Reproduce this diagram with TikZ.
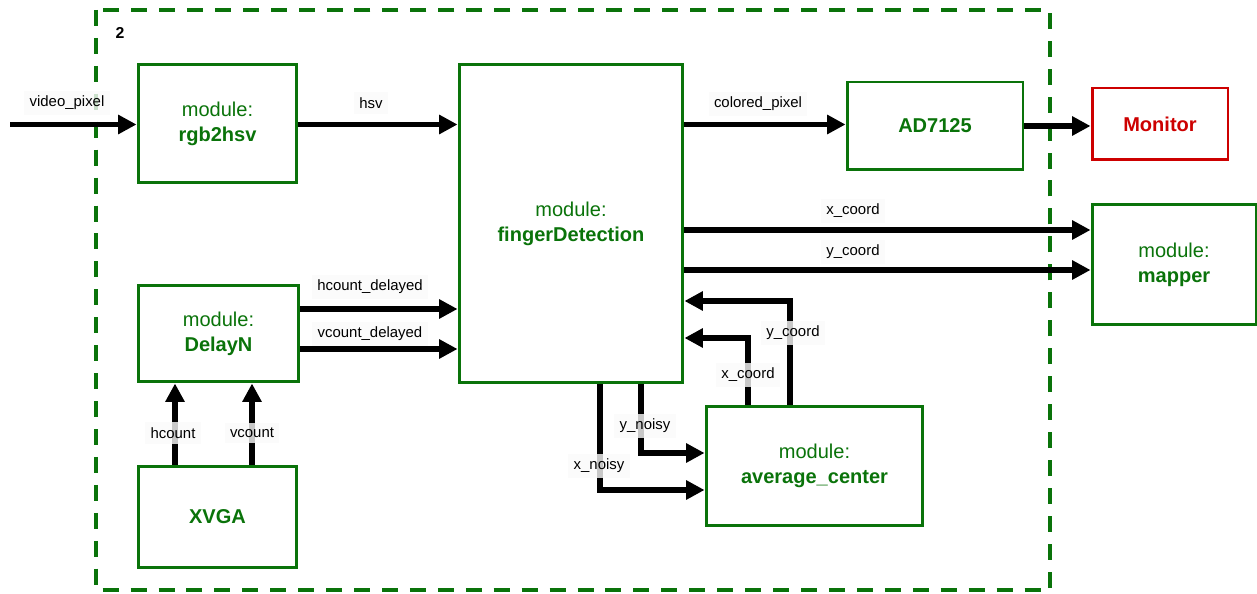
\documentclass[tikz,border=0pt]{standalone}
\usepackage{fontspec}
\setmainfont{Liberation Sans}
\usetikzlibrary{arrows.meta,calc}
\definecolor{modgreen}{RGB}{10,115,10}
\definecolor{monred}{RGB}{205,0,0}
\newcommand{\modtext}[1]{module:\\\textbf{#1}}
\tikzset{
  module/.style={draw=modgreen, line width=1.7pt, fill=white, text=modgreen,
    align=center, font=\fontsize{11.4}{14.2}\selectfont, inner sep=0pt},
  monitorbox/.style={module, draw=monred, text=monred},
  bus/.style={line width=3pt, -{Triangle[length=10.5pt,width=10.5pt]}},
  siglabel/.style={font=\fontsize{8.5}{10}\selectfont, fill=black!2, fill opacity=0.8,
    text opacity=1, inner sep=3pt},
  frame/.style={draw=modgreen, line width=2.3pt, dash pattern=on 9.1pt off 6.8pt},
}
\begin{document}
\begin{tikzpicture}[x=0.02cm, y=-0.02cm]
  \useasboundingbox (0,0) rectangle (1257,594);
  % enclosing FPGA frame
  \draw[frame] (96,10) rectangle (1050,590);
  \node[font=\bfseries\fontsize{9}{10}\selectfont] (fpga) at (120,33) {2};

  % modules
  \node[module, minimum width=3.18cm, minimum height=2.38cm] (rgb) at (217.5,123.5) {\modtext{rgb2hsv}};
  \node[module, minimum width=4.48cm, minimum height=6.38cm] (fd) at (571,223.5) {\modtext{fingerDetection}};
  \node[module, minimum width=3.52cm, minimum height=1.76cm] (ad) at (935,126) {\textbf{AD7125}};
  \node[monitorbox, minimum width=2.72cm, minimum height=1.44cm] (mon) at (1160,124) {\textbf{Monitor}};
  \node[module, minimum width=3.28cm, minimum height=2.42cm] (map) at (1174,264.5) {\modtext{mapper}};
  \node[module, minimum width=3.22cm, minimum height=1.94cm] (delay) at (218.5,333.5) {\modtext{DelayN}};
  \node[module, minimum width=3.18cm, minimum height=2.04cm] (xvga) at (217.5,517) {\textbf{XVGA}};
  \node[module, minimum width=4.34cm, minimum height=2.40cm] (avg) at (814.5,466) {\modtext{average\_center}};

  % routing points
  \coordinate (vin) at (10,124.5);
  \coordinate (cp) at (0,124.5);
  \coordinate (xc) at (0,230);
  \coordinate (yc) at (0,270);
  \coordinate (hd) at (0,309);
  \coordinate (vd) at (0,349);
  \coordinate (hc) at (175,0);
  \coordinate (vc) at (252,0);
  \coordinate (xn) at (600,490);
  \coordinate (yn) at (641,453);
  \coordinate (xb) at (748,338);
  \coordinate (yb) at (790,301);

  % connectors
  \draw[bus] (vin) -- (rgb.west |- vin);
  \draw[bus] (rgb.east |- vin) -- (fd.west |- vin);
  \draw[bus] (fd.east |- cp) -- (ad.west |- cp);
  \draw[bus] (ad.east) -- (ad.east -| mon.west);
  \draw[bus] (fd.east |- xc) -- (map.west |- xc);
  \draw[bus] (fd.east |- yc) -- (map.west |- yc);
  \draw[bus] (delay.east |- hd) -- (fd.west |- hd);
  \draw[bus] (delay.east |- vd) -- (fd.west |- vd);
  \draw[bus] (xvga.north -| hc) -- (delay.south -| hc);
  \draw[bus] (xvga.north -| vc) -- (delay.south -| vc);
  \draw[bus] (fd.south -| xn) |- (avg.west |- xn);
  \draw[bus] (fd.south -| yn) |- (avg.west |- yn);
  \draw[bus] (avg.north -| xb) |- (fd.east |- xb);
  \draw[bus] (avg.north -| yb) |- (fd.east |- yb);

  % signal labels
  \node[siglabel] (lvp) at (67,103) {video\_pixel};
  \node[siglabel] (lhsv) at (371,103) {hsv};
  \node[siglabel] (lcp) at (758,104) {colored\_pixel};
  \node[siglabel] (lxc) at (853,211) {x\_coord};
  \node[siglabel] (lyc) at (853,252) {y\_coord};
  \node[siglabel] (lhd) at (370,287) {hcount\_delayed};
  \node[siglabel] (lvd) at (370,334) {vcount\_delayed};
  \node[siglabel] (lhc) at (173,433) {hcount};
  \node[siglabel] (lvc) at (252,433) {vcount};
  \node[siglabel] (lxn) at (599,466) {x\_noisy};
  \node[siglabel] (lyn) at (645,426) {y\_noisy};
  \node[siglabel] (lxb) at (748,375) {x\_coord};
  \node[siglabel] (lyb) at (793,333) {y\_coord};
\end{tikzpicture}
\end{document}
